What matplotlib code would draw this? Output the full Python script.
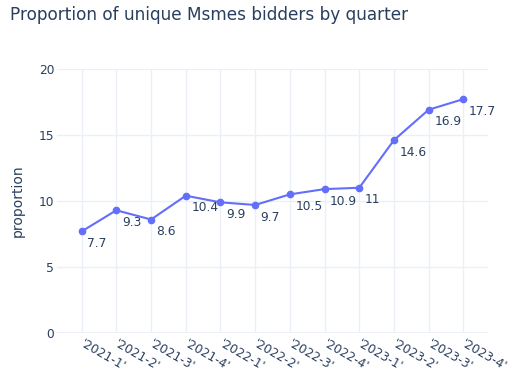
import matplotlib
matplotlib.use("Agg")
import matplotlib.pyplot as plt
import matplotlib.transforms as mtransforms

quarters = ["'2021-1'", "'2021-2'", "'2021-3'", "'2021-4'", "'2022-1'", "'2022-2'",
            "'2022-3'", "'2022-4'", "'2023-1'", "'2023-2'", "'2023-3'", "'2023-4'"]
proportion = [7.7, 9.3, 8.6, 10.4, 9.9, 9.7, 10.5, 10.9, 11, 14.6, 16.9, 17.7]
value_labels = ["7.7", "9.3", "8.6", "10.4", "9.9", "9.7", "10.5", "10.9", "11", "14.6", "16.9", "17.7"]

plt.rcParams['font.family'] = ['DejaVu Sans']
text_color = "#2a3f5f"
grid_color = "#ebf0f8"
line_color = "#636efa"

fig = plt.figure(figsize=(5.12, 3.73), dpi=100)
ax = fig.add_axes([57/512, 1-333.3/373, (488-57)/512, (333.3-68.7)/373])

x = list(range(len(quarters)))
ax.plot(x, proportion, color=line_color, linewidth=1.5, marker='o', markersize=4.5, zorder=3, clip_on=False)
for xi, yi, lab in zip(x, proportion, value_labels):
    ax.annotate(lab, (xi, yi), xytext=(4, -4), textcoords='offset points',
                ha='left', va='top', fontsize=8.8, color=text_color, annotation_clip=False)

ax.set_xlim(-0.71, 11.71)
ax.set_ylim(0, 20)
ax.set_yticks([0, 5, 10, 15, 20])
ax.set_xticks(x)
ax.set_xticklabels(quarters, rotation=-30, ha='left', va='top', rotation_mode='anchor')
ax.tick_params(axis='both', length=0, labelsize=8.8, labelcolor=text_color)
ax.tick_params(axis='x', pad=3)
offset = mtransforms.ScaledTranslation(3/100, 0, fig.dpi_scale_trans)
for lbl in ax.get_xticklabels():
    lbl.set_transform(lbl.get_transform() + offset)
ax.tick_params(axis='y', pad=2)
for s in ax.spines.values():
    s.set_visible(False)
ax.grid(True, color=grid_color, linewidth=1)
ax.axhline(0, color=grid_color, linewidth=2, zorder=1)
ax.set_axisbelow(True)
ax.set_ylabel("proportion", fontsize=10, color=text_color, labelpad=10)

fig.text(10/512, 1-15/373, "Proportion of unique Msmes bidders by quarter",
         fontsize=12.2, color=text_color, ha='left', va='center')

fig.savefig("out.png", dpi=100)
